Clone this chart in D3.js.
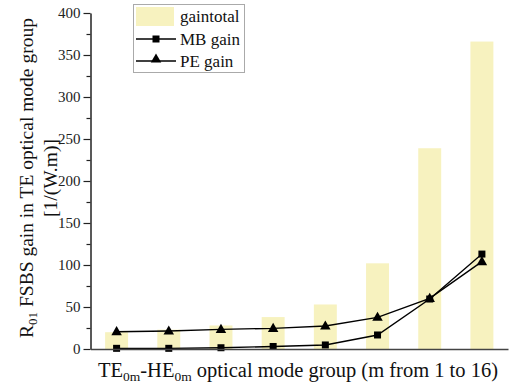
<!DOCTYPE html>
<html><head><meta charset="utf-8">
<script src="https://cdn.jsdelivr.net/npm/d3@7"></script>
<style>html,body{margin:0;padding:0;background:#fff;}svg text{font-family:"Liberation Serif","Times New Roman",Times,"DejaVu Serif","Noto Serif",serif !important;}</style>
</head><body>
<svg id="c" width="512" height="387"></svg>
<script>
const categories = ["1","2","3","4","5","6","7","8"];
const gaintotal = [20, 23, 28, 38, 53, 102, 239, 366];
const mbGain = [0.8, 0.8, 1.5, 3, 4.8, 16.7, 59.5, 113];
const peGain = [20.6, 21.4, 23.4, 24.6, 27.4, 37.7, 60.3, 104];
const yTicks = [0, 50, 100, 150, 200, 250, 300, 350, 400];
const seriesNames = ["gaintotal", "MB gain", "PE gain"];

const svg = d3.select("#c");
const L = 90.5, R = 508, T = 13, B = 349;
const x = d3.scaleBand().domain(categories).range([L, R]).paddingInner(0.56).paddingOuter(0.28);
const y = d3.scaleLinear().domain([0, 400]).range([B, T]);
const barColor = "#f7f2bf";

// bars
svg.append("g").selectAll("rect").data(gaintotal).join("rect")
  .attr("x", (d,i) => x(categories[i]))
  .attr("y", d => y(d))
  .attr("width", x.bandwidth())
  .attr("height", d => y(0) - y(d))
  .attr("fill", barColor);

// lines
const cx = i => x(categories[i]) + x.bandwidth()/2;
const line = d3.line().x((d,i) => cx(i)).y(d => y(d));
[mbGain, peGain].forEach(s => {
  svg.append("path").attr("d", line(s)).attr("fill","none").attr("stroke","#000").attr("stroke-width",1.4);
});
svg.append("g").selectAll("rect").data(mbGain).join("rect")
  .attr("x", (d,i) => cx(i) - 3.5).attr("y", d => y(d) - 3.5)
  .attr("width", 7).attr("height", 7).attr("fill", "#000");
const tri = d3.symbol().type(d3.symbolTriangle).size(48);
svg.append("g").selectAll("path").data(peGain).join("path")
  .attr("transform", (d,i) => `translate(${cx(i)},${y(d)+0.5})`)
  .attr("d", tri).attr("fill", "#000");

// y axis
const minor = d3.range(25, 400, 50);
svg.append("g").attr("transform", `translate(${L},0)`)
  .call(d3.axisLeft(y).tickValues(minor).tickSize(4).tickFormat(""))
  .call(g => g.select(".domain").remove())
  .call(g => g.selectAll("line").attr("stroke","#222").attr("stroke-width",1.2));
const ya = svg.append("g").attr("transform", `translate(${L},0)`)
  .call(d3.axisLeft(y).tickValues(yTicks).tickSize(7).tickSizeOuter(0).tickPadding(3));
ya.attr("font-family", null);
ya.select(".domain").attr("stroke","#222").attr("stroke-width",1.5);
ya.selectAll("line").attr("stroke","#222").attr("stroke-width",1.2);
ya.selectAll("text").attr("font-size",15).attr("fill","#222");

// x axis
const xa = svg.append("g").attr("transform", `translate(0,${B})`)
  .call(d3.axisBottom(x).tickSize(0).tickSizeOuter(0).tickFormat(""));
xa.select(".domain").attr("stroke","#444").attr("stroke-width",1.6);

// y title
const yt = svg.append("text").attr("transform","translate(33,178) rotate(-90)")
  .attr("text-anchor","middle").attr("font-size",19.5).attr("fill","#111");
yt.append("tspan").text("R");
yt.append("tspan").attr("font-size",13).attr("dy",4).text("01");
yt.append("tspan").attr("dy",-4).text(" FSBS gain in TE optical mode group");
svg.append("text").attr("transform","translate(57,178) rotate(-90)")
  .attr("text-anchor","middle").attr("font-size",19.5).attr("fill","#111").text("[1/(W.m)]");

// x title
const xt = svg.append("text").attr("x", 298).attr("y", 377)
  .attr("text-anchor","middle").attr("font-size",20.5).attr("fill","#111");
xt.append("tspan").text("TE");
xt.append("tspan").attr("font-size",13.5).attr("dy",4).text("0m");
xt.append("tspan").attr("dy",-4).text("-HE");
xt.append("tspan").attr("font-size",13.5).attr("dy",4).text("0m");
xt.append("tspan").attr("dy",-4).text(" optical mode group (m from 1 to 16)");

// legend
const lg = svg.append("g");
lg.append("rect").attr("x",133.5).attr("y",4.5).attr("width",111).attr("height",68)
  .attr("fill","#fff").attr("stroke","#aaa").attr("stroke-width",1);
lg.append("rect").attr("x",136).attr("y",7).attr("width",38).attr("height",19).attr("fill",barColor);
lg.append("line").attr("x1",136).attr("x2",176).attr("y1",39).attr("y2",39).attr("stroke","#000").attr("stroke-width",1.4);
lg.append("rect").attr("x",152.5).attr("y",35.5).attr("width",7).attr("height",7).attr("fill","#000");
lg.append("line").attr("x1",136).attr("x2",176).attr("y1",61).attr("y2",61).attr("stroke","#000").attr("stroke-width",1.4);
lg.append("path").attr("transform","translate(156,59.5)").attr("d",tri).attr("fill","#000");
const ly = [22, 45, 67];
seriesNames.forEach((n,i) => {
  lg.append("text").attr("x",180).attr("y",ly[i]).attr("font-size",17).attr("fill","#111").text(n);
});
</script>
</body></html>
